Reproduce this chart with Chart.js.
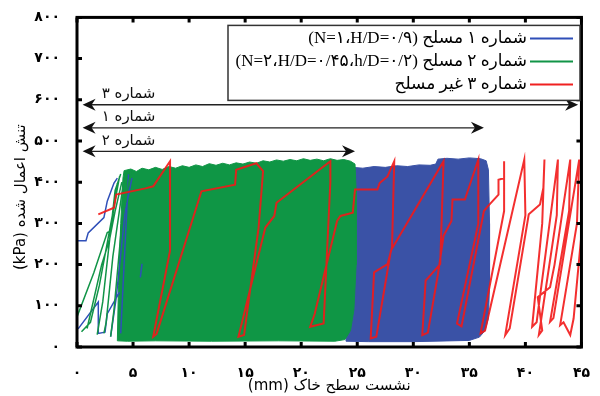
<!DOCTYPE html>
<html>
<head>
<meta charset="utf-8">
<script src="https://cdn.jsdelivr.net/npm/chart.js@4.4.1/dist/chart.umd.min.js"></script>
<style>
  html, body { margin: 0; padding: 0; background: #fff; }
</style>
</head>
<body>
<canvas id="chart" dir="rtl" width="600" height="396"></canvas>
<script>
// axis ticks (Persian digits)
const xTickValues = [0, 5, 10, 15, 20, 25, 30, 35, 40, 45];
const xTickLabels = ['۰', '۵', '۱۰', '۱۵', '۲۰', '۲۵', '۳۰', '۳۵', '۴۰', '۴۵'];
const yTickValues = [0, 100, 200, 300, 400, 500, 600, 700, 800];
const yTickLabels = ['۰', '۱۰۰', '۲۰۰', '۳۰۰', '۴۰۰', '۵۰۰', '۶۰۰', '۷۰۰', '۸۰۰'];

const seriesLabels = [
  'شماره ۱ مسلح (N=۱،H/D=۰/۹)',
  'شماره ۲ مسلح (N=۲،H/D=۰/۴۵،h/D=۰/۲)',
  'شماره ۳ غیر مسلح'
];
const seriesColors = ['#2f4fb8', '#119447', '#f02020'];

// unreinforced (no. 3) load-settlement path
const redX = [1.9, 3.3, 3.5, 6.1, 6.8, 8.3, 8.3, 6.8, 7.1, 11.1, 14.1, 14.2, 16.0, 16.6, 16.2, 14.9, 14.4, 16.8, 17.6, 17.8,
  22.6, 22.6, 22.0, 20.8, 21.2, 23.2, 23.5, 24.6, 24.8, 26.8, 27.0, 27.7, 28.3, 28.1, 27.7, 26.5, 26.2, 26.7, 28.0, 32.7,
  32.4, 31.1, 30.8, 31.3, 32.2, 32.7, 33.4, 33.5, 34.6, 35.8, 35.8, 33.9, 34.3, 36.3, 36.6, 37.6, 37.6, 38.1, 38.1, 38.1,
  36.0, 36.4, 39.9, 40.0, 38.2, 38.6, 40.3, 41.3, 41.6, 41.7, 41.5, 40.6, 41.0, 42.9, 42.8, 41.2, 41.5, 41.1, 42.2, 42.6,
  44.0, 43.9, 42.2, 42.5, 44.8, 44.6, 43.1, 43.4, 44.0, 44.3, 45.5];
const redY = [322, 338, 370, 385, 390, 451, 234, 25, 32, 378, 394, 430, 446, 427, 290, 29, 25, 290, 318, 350,
  451, 400, 57, 49, 80, 306, 318, 326, 382, 382, 398, 414, 451, 242, 201, 181, 21, 25, 234, 451,
  201, 161, 29, 35, 177, 270, 306, 358, 358, 455, 300, 57, 50, 330, 340, 370, 406, 410, 451, 330,
  33, 40, 455, 320, 29, 45, 322, 346, 386, 455, 300, 49, 60, 455, 320, 29, 40, 121, 145, 200,
  455, 330, 61, 70, 455, 300, 53, 60, 29, 69, 420];

// reinforced no. 2: outline of the dense cyclic band, plus early sparse cycles
const greenBandX = [3.6, 3.7, 3.9, 4.1, 4.2, 4.8, 5.3, 5.8, 6.4, 7.0, 7.6, 8.2, 8.8, 9.4, 10.0, 10.6, 11.2, 11.8, 12.4, 13.0,
  13.6, 14.2, 14.8, 15.4, 16.0, 16.6, 17.2, 17.8, 18.4, 19.0, 19.6, 20.2, 20.8, 21.4, 22.0, 22.6, 23.2, 23.8, 24.4, 24.8,
  24.9, 24.9, 24.7, 24.4, 23.9, 23.0, 18.0, 12.0, 7.0, 4.5, 3.6];
const greenBandY = [15, 150, 300, 410, 428, 432, 426, 434, 430, 436, 431, 438, 434, 440, 436, 442, 438, 445, 441, 446,
  442, 447, 444, 449, 446, 452, 449, 454, 451, 455, 452, 457, 453, 456, 452, 457, 453, 455, 451, 444,
  380, 200, 90, 40, 18, 14, 15, 14, 15, 14, 15];
const greenLineX = [0.0, 1.5, 2.7, 3.0, 3.6, null, 0.4, 1.2, 2.0, 3.8, null, 2.4, 2.6, 3.2, 4.2, null, 3.0, 3.3, 4.0, 4.8,
  null, 0.9, 2.2, 2.9, 3.4, 4.0, null, 1.8, 2.3, 3.4, 3.9];
const greenLineY = [73, 180, 278, 282, 398, null, 37, 60, 150, 414, null, 33, 60, 220, 410, null, 25, 90, 300, 426,
  null, 45, 200, 260, 330, 400, null, 30, 110, 380, 420];

// reinforced no. 1
const blueBandX = [24.0, 24.0, 24.6, 25.5, 26.5, 27.5, 28.5, 29.5, 30.5, 31.5, 32.0, 32.2, 33.0, 34.0, 35.0, 36.0, 36.5, 36.7,
  36.8, 36.8, 36.7, 36.4, 35.9, 35.0, 30.0, 26.0, 24.0];
const blueBandY = [14, 436, 436, 434, 438, 436, 440, 438, 442, 441, 444, 456, 458, 456, 459, 457, 452, 430,
  300, 150, 70, 40, 24, 16, 13, 13, 14];
const blueLineX = [0.0, 0.8, 1.0, 2.4, 2.7, 3.3, 3.6, null, 0.1, 1.9, 1.9, 2.5, 2.7, 3.8, null, 3.0, 3.5, 4.3, 4.9,
  null, 5.65, 5.8, null, 3.9, 4.2, 4.6];
const blueLineY = [258, 258, 277, 314, 354, 398, 410, null, 44, 109, 33, 36, 81, 133, null, 25, 120, 330, 410,
  null, 169, 202, null, 33, 200, 419];

// span arrows
const arrowLabels = ['شماره ۳', 'شماره ۱', 'شماره ۲'];
const arrowY = [588, 532, 475];
const arrowFrom = [0.5, 0.5, 0.5];
const arrowTo = [44.7, 36.3, 24.8];
const arrowTextX = 4.6;

function toPoints(xs, ys) {
  return xs.map((x, i) => ({ x: x, y: ys[i] }));
}

const frame = {
  id: 'frame',
  afterDatasetsDraw(chart) {
    const { ctx, chartArea: a, scales: { x, y } } = chart;
    ctx.save();
    ctx.strokeStyle = '#000';
    ctx.lineWidth = 3;
    ctx.beginPath();
    xTickValues.forEach(v => {
      const px = x.getPixelForValue(v);
      ctx.moveTo(px, a.bottom); ctx.lineTo(px, a.bottom - 5);
      ctx.moveTo(px, a.top); ctx.lineTo(px, a.top + 5);
    });
    yTickValues.forEach(v => {
      const py = y.getPixelForValue(v);
      ctx.moveTo(a.left, py); ctx.lineTo(a.left + 5, py);
      ctx.moveTo(a.right, py); ctx.lineTo(a.right - 5, py);
    });
    ctx.stroke();
    ctx.strokeRect(a.left, a.top, a.right - a.left, a.bottom - a.top);
    ctx.restore();
  }
};

function arrowHead(ctx, tipX, py, dir) {
  ctx.beginPath();
  ctx.moveTo(tipX, py);
  ctx.lineTo(tipX + dir * 13, py - 6);
  ctx.lineTo(tipX + dir * 9, py);
  ctx.lineTo(tipX + dir * 13, py + 6);
  ctx.closePath();
  ctx.fill();
}

const arrows = {
  id: 'arrows',
  afterDatasetsDraw(chart) {
    const { ctx, scales: { x, y } } = chart;
    ctx.save();
    ctx.strokeStyle = '#222';
    ctx.fillStyle = '#111';
    ctx.lineWidth = 1.3;
    ctx.direction = 'rtl';
    ctx.textAlign = 'center';
    ctx.textBaseline = 'bottom';
    ctx.font = '15px "DejaVu Sans"';
    arrowLabels.forEach((label, i) => {
      const py = y.getPixelForValue(arrowY[i]);
      const x0 = x.getPixelForValue(arrowFrom[i]);
      const x1 = x.getPixelForValue(arrowTo[i]);
      ctx.beginPath();
      ctx.moveTo(x0 + 4, py);
      ctx.lineTo(x1 - 4, py);
      ctx.stroke();
      arrowHead(ctx, x0, py, 1);
      arrowHead(ctx, x1, py, -1);
      ctx.fillText(label, x.getPixelForValue(arrowTextX), py - 3);
    });
    ctx.restore();
  }
};

const legendBox = {
  id: 'legendBox',
  afterDraw(chart) {
    const { ctx, chartArea: a } = chart;
    const left = a.left + 151, top = a.top + 8, w = 352, h = 75;
    ctx.save();
    ctx.fillStyle = '#fff';
    ctx.fillRect(left, top, w, h);
    ctx.strokeStyle = '#333';
    ctx.lineWidth = 1.5;
    ctx.strokeRect(left, top, w, h);
    ctx.direction = 'rtl';
    ctx.textAlign = 'right';
    ctx.textBaseline = 'middle';
    ctx.font = '17px "Liberation Serif", "DejaVu Sans"';
    seriesLabels.forEach((label, i) => {
      const cy = top + 13 + i * 23;
      ctx.strokeStyle = seriesColors[i];
      ctx.lineWidth = 2;
      ctx.beginPath();
      ctx.moveTo(left + w - 50, cy);
      ctx.lineTo(left + w - 7, cy);
      ctx.stroke();
      ctx.fillStyle = '#000';
      ctx.fillText(label, left + w - 53, cy);
    });
    ctx.restore();
  }
};

const tickFont = { family: '"DejaVu Sans"', size: 14, weight: 'bold' };

new Chart(document.getElementById('chart'), {
  type: 'scatter',
  data: {
    datasets: [
      {
        label: seriesLabels[2],
        data: toPoints(redX, redY),
        showLine: true,
        borderColor: 'rgba(242,24,24,0.9)',
        borderWidth: 2,
        pointRadius: 0,
        order: 0
      },
      {
        label: seriesLabels[1],
        data: toPoints(greenLineX, greenLineY),
        showLine: true,
        borderColor: seriesColors[1],
        borderWidth: 1.5,
        pointRadius: 0,
        order: 1
      },
      {
        label: seriesLabels[0],
        data: toPoints(blueLineX, blueLineY),
        showLine: true,
        borderColor: seriesColors[0],
        borderWidth: 1.5,
        pointRadius: 0,
        order: 2
      },
      {
        label: seriesLabels[1],
        data: toPoints(greenBandX, greenBandY),
        showLine: true,
        fill: 'shape',
        backgroundColor: '#0f9645',
        borderColor: '#0f9645',
        borderWidth: 1,
        pointRadius: 0,
        order: 3
      },
      {
        label: seriesLabels[0],
        data: toPoints(blueBandX, blueBandY),
        showLine: true,
        fill: 'shape',
        backgroundColor: '#3a52a6',
        borderColor: '#3a52a6',
        borderWidth: 1,
        pointRadius: 0,
        order: 4
      }
    ]
  },
  options: {
    responsive: false,
    animation: false,
    layout: { padding: { top: 15, right: 8, left: 0, bottom: 0 } },
    plugins: {
      legend: { display: false },
      tooltip: { enabled: false }
    },
    scales: {
      x: {
        type: 'linear',
        min: 0,
        max: 45,
        afterBuildTicks: s => { s.ticks = xTickValues.map(v => ({ value: v })); },
        afterFit: s => { s.height = 49; },
        grid: { display: false },
        border: { display: false },
        ticks: {
          autoSkip: false,
          maxRotation: 0,
          padding: 10,
          color: '#000',
          font: tickFont,
          callback: v => xTickLabels[xTickValues.indexOf(v)]
        },
        title: {
          display: true,
          text: 'نشست سطح خاک (mm)',
          color: '#000',
          font: { family: '"DejaVu Sans"', size: 15 },
          padding: { top: 0, bottom: 1 }
        }
      },
      y: {
        type: 'linear',
        min: 0,
        max: 800,
        afterBuildTicks: s => { s.ticks = yTickValues.map(v => ({ value: v })); },
        afterFit: s => { s.width = 77; },
        grid: { display: false },
        border: { display: false },
        ticks: {
          padding: 9,
          color: '#000',
          font: tickFont,
          callback: v => yTickLabels[yTickValues.indexOf(v)]
        },
        title: {
          display: true,
          text: '\u2003\u2003تنش اعمال شده (kPa)',
          color: '#000',
          font: { family: '"DejaVu Sans"', size: 15 },
          padding: { top: 12, bottom: 0 }
        }
      }
    }
  },
  plugins: [frame, arrows, legendBox]
});
</script>
</body>
</html>
